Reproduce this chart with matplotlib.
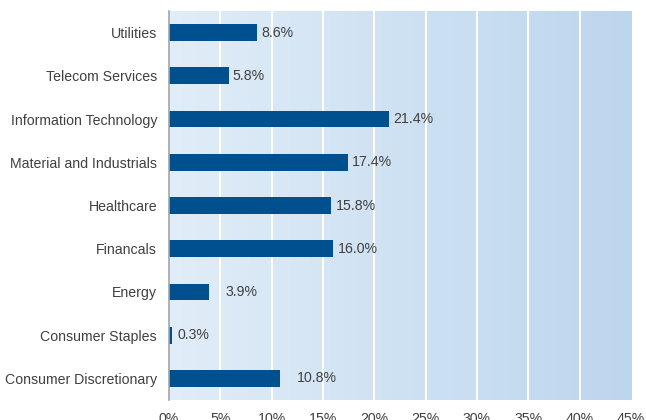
import numpy as np
import matplotlib.pyplot as plt
from matplotlib.colors import LinearSegmentedColormap

plt.rcParams['font.family'] = ['Liberation Sans', 'DejaVu Sans']

sectors = ["Utilities", "Telecom Services", "Information Technology",
           "Material and Industrials", "Healthcare", "Financals", "Energy",
           "Consumer Staples", "Consumer Discretionary"]
weights = [8.6, 5.8, 21.4, 17.4, 15.8, 16.0, 3.9, 0.3, 10.8]
xticks = [0, 5, 10, 15, 20, 25, 30, 35, 40, 45]

# label offsets (points) right of bar end, as in the original
label_pad = [3, 3, 3, 3, 3, 3, 12, 4, 12]

bg = LinearSegmentedColormap.from_list('bg', ['#e1edf8', '#bcd6ee'])

fig = plt.figure(figsize=(6.46, 4.2), dpi=100)
ax = fig.add_axes([0.2616, 0.0476, 0.9768 - 0.2616, 0.9738 - 0.0476])

ax.imshow(np.linspace(0, 1, 256).reshape(1, -1), cmap=bg, aspect='auto',
          extent=[0, 45, -0.5, 8.5], zorder=0)
for t in xticks[1:-1]:
    ax.axvline(t, color='white', lw=1.5, zorder=1)

y = np.arange(len(sectors))
ax.barh(y, weights, height=0.39, color='#00508f', zorder=2)
for yi, w, p in zip(y, weights, label_pad):
    ax.annotate(f"{w:.1f}%", (w, yi), xytext=(p, 0), textcoords='offset points',
                va='center', ha='left', fontsize=10.2, color='#404040')

ax.set_xlim(0, 45)
ax.set_ylim(8.5, -0.5)
ax.set_yticks(y)
ax.set_yticklabels(sectors)
ax.set_xticks(xticks)
ax.set_xticklabels([f"{t}%" for t in xticks])
ax.tick_params(axis='both', length=0, labelsize=10.2, colors='#404040')
ax.tick_params(axis='y', pad=8.6)
ax.tick_params(axis='x', pad=8.5)
for s in ['top', 'right', 'bottom']:
    ax.spines[s].set_visible(False)
ax.spines['left'].set_color('#a6a6a6')
ax.spines['left'].set_linewidth(1.2)

fig.savefig('out.png', dpi=100)
